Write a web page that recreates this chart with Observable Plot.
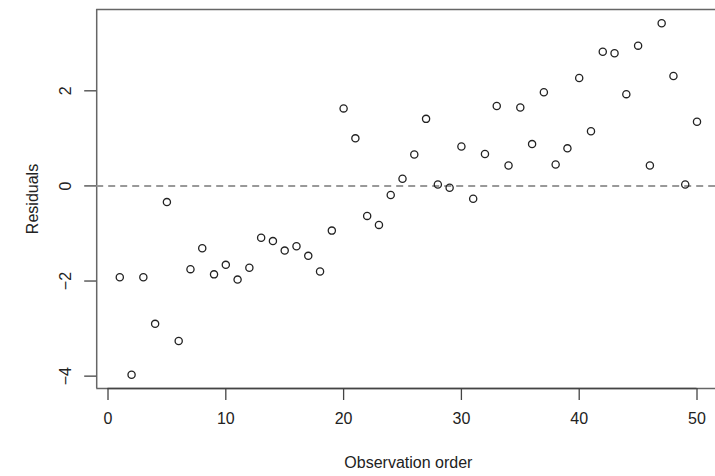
<!DOCTYPE html>
<html>
<head>
<meta charset="utf-8">
<script src="https://cdn.jsdelivr.net/npm/d3@7"></script>
<script src="https://cdn.jsdelivr.net/npm/@observablehq/plot@0.6"></script>
<style>
  html, body { margin: 0; padding: 0; background: #fff; }
  #chart svg { overflow: hidden; display: block; }
</style>
</head>
<body>
<div id="chart"></div>
<script>
const order = d3.range(1, 51);
const residuals = [
  -1.92, -3.97, -1.92, -2.90, -0.34, -3.26, -1.75, -1.31, -1.86, -1.66,
  -1.97, -1.72, -1.09, -1.16, -1.36, -1.27, -1.47, -1.80, -0.94, 1.63,
   1.00, -0.63, -0.82, -0.19, 0.15, 0.66, 1.41, 0.03, -0.04, 0.83,
  -0.27, 0.67, 1.68, 0.43, 1.65, 0.88, 1.97, 0.45, 0.79, 2.27,
   1.15, 2.82, 2.79, 1.93, 2.95, 0.43, 3.42, 2.31, 0.03, 1.35
];
const xTicks = [0, 10, 20, 30, 40, 50];
const yTicks = [-4, -2, 0, 2];
const xLabel = "Observation order";
const yLabel = "Residuals";

const data = order.map((o, i) => ({order: o, residual: residuals[i]}));

// R-style 4% padding around data range
const xDom = [-0.96, 51.57];
const yDom = [-4.26, 3.71];
const font = "'Liberation Sans', Arial, sans-serif";

const chart = Plot.plot({
  width: 715,
  height: 476,
  marginLeft: 96.2,
  marginRight: 0,
  marginTop: 9,
  marginBottom: 88,
  style: {fontFamily: font, fontSize: "16px", background: "#fff", color: "#333"},
  x: {domain: xDom, axis: null},
  y: {domain: yDom, axis: null},
  marks: [
    // box (left, top, bottom)
    Plot.ruleX([xDom[0]], {stroke: "#666", strokeWidth: 1.5}),
    Plot.ruleY([yDom[1], yDom[0]], {stroke: "#666", strokeWidth: 1.5}),
    // zero reference line
    Plot.ruleY([0], {stroke: "#999", strokeWidth: 2, strokeDasharray: "7,5"}),
    // x axis line from first to last tick
    Plot.ruleY([yDom[0]], {x1: xTicks[0], x2: xTicks[xTicks.length - 1], stroke: "#444", strokeWidth: 1.5}),
    Plot.axisX({ticks: xTicks, anchor: "bottom", tickSize: 12, tickPadding: 12, stroke: "#444", strokeWidth: 1.3, fontSize: 16, fill: "#222", label: null}),
    // y axis: ticks and rotated labels separately
    Plot.axisY({ticks: yTicks, anchor: "left", tickSize: 12, text: null, stroke: "#444", strokeWidth: 1.3, label: null}),
    Plot.axisY({ticks: yTicks, anchor: "left", tickSize: 0, tickPadding: 31, fontSize: 16, fill: "#222", rotate: -90, textAnchor: "middle", lineAnchor: "middle", label: null}),
    // axis titles
    Plot.text([xLabel], {x: (xDom[0] + 51.96) / 2, y: yDom[0], text: d => d, dy: 74, fontSize: 16, fill: "#222"}),
    Plot.text([yLabel], {x: xDom[0], y: (yDom[0] + yDom[1]) / 2, text: d => d, dx: -64, rotate: -90, fontSize: 16, fill: "#222"}),
    // points
    Plot.dot(data, {x: "order", y: "residual", r: 3.6, stroke: "#222", strokeWidth: 1.3, fill: "none"})
  ]
});
document.getElementById("chart").appendChild(chart);
</script>
</body>
</html>
